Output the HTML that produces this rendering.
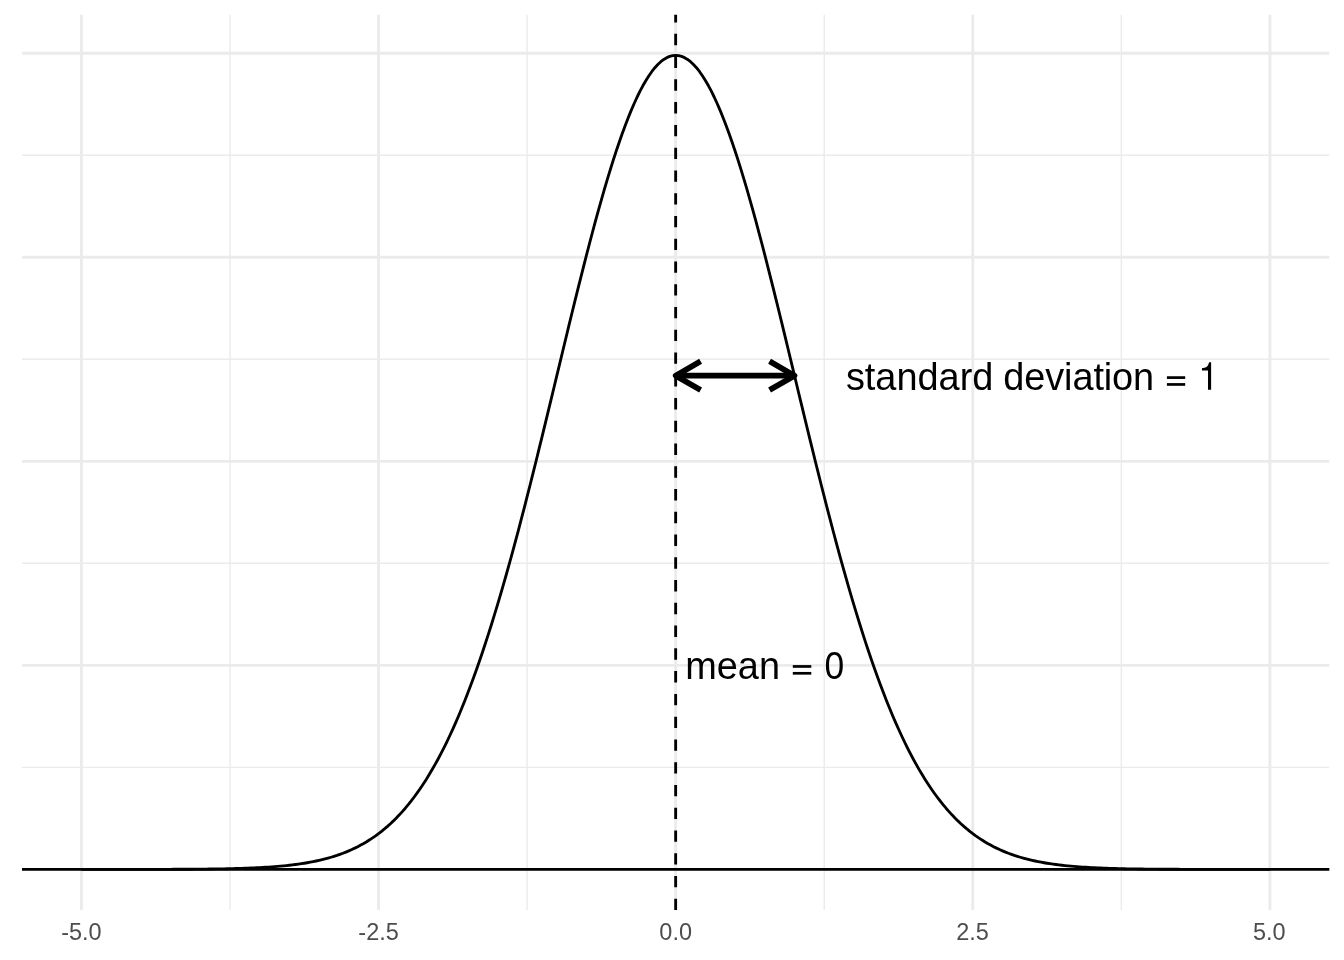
<!DOCTYPE html>
<html><head><meta charset="utf-8"><title>Normal distribution</title>
<style>
html,body{margin:0;padding:0;background:#fff;}
body{width:1344px;height:960px;overflow:hidden;font-family:"Liberation Sans",sans-serif;}
svg{display:block;will-change:transform;}
svg text{font-family:"Liberation Sans",sans-serif;}
</style></head><body>
<svg width="1344" height="960" viewBox="0 0 1344 960">
<rect x="0" y="0" width="1344" height="960" fill="#fff"/>
<line x1="22.00" x2="1329.33" y1="869.40" y2="869.40" stroke="#EBEBEB" stroke-width="2.85"/>
<line x1="22.00" x2="1329.33" y1="767.38" y2="767.38" stroke="#EBEBEB" stroke-width="1.42"/>
<line x1="22.00" x2="1329.33" y1="665.35" y2="665.35" stroke="#EBEBEB" stroke-width="2.85"/>
<line x1="22.00" x2="1329.33" y1="563.33" y2="563.33" stroke="#EBEBEB" stroke-width="1.42"/>
<line x1="22.00" x2="1329.33" y1="461.31" y2="461.31" stroke="#EBEBEB" stroke-width="2.85"/>
<line x1="22.00" x2="1329.33" y1="359.28" y2="359.28" stroke="#EBEBEB" stroke-width="1.42"/>
<line x1="22.00" x2="1329.33" y1="257.26" y2="257.26" stroke="#EBEBEB" stroke-width="2.85"/>
<line x1="22.00" x2="1329.33" y1="155.24" y2="155.24" stroke="#EBEBEB" stroke-width="1.42"/>
<line x1="22.00" x2="1329.33" y1="53.21" y2="53.21" stroke="#EBEBEB" stroke-width="2.85"/>
<line x1="81.42" x2="81.42" y1="14.67" y2="910.10" stroke="#EBEBEB" stroke-width="2.85"/>
<line x1="229.98" x2="229.98" y1="14.67" y2="910.10" stroke="#EBEBEB" stroke-width="1.42"/>
<line x1="378.54" x2="378.54" y1="14.67" y2="910.10" stroke="#EBEBEB" stroke-width="2.85"/>
<line x1="527.10" x2="527.10" y1="14.67" y2="910.10" stroke="#EBEBEB" stroke-width="1.42"/>
<line x1="675.66" x2="675.66" y1="14.67" y2="910.10" stroke="#EBEBEB" stroke-width="2.85"/>
<line x1="824.23" x2="824.23" y1="14.67" y2="910.10" stroke="#EBEBEB" stroke-width="1.42"/>
<line x1="972.79" x2="972.79" y1="14.67" y2="910.10" stroke="#EBEBEB" stroke-width="2.85"/>
<line x1="1121.35" x2="1121.35" y1="14.67" y2="910.10" stroke="#EBEBEB" stroke-width="1.42"/>
<line x1="1269.91" x2="1269.91" y1="14.67" y2="910.10" stroke="#EBEBEB" stroke-width="2.85"/>
<polyline points="81.42,869.40 84.40,869.40 87.37,869.39 90.34,869.39 93.31,869.39 96.28,869.39 99.25,869.39 102.22,869.39 105.19,869.39 108.16,869.39 111.14,869.39 114.11,869.39 117.08,869.39 120.05,869.38 123.02,869.38 125.99,869.38 128.96,869.38 131.93,869.38 134.91,869.37 137.88,869.37 140.85,869.37 143.82,869.36 146.79,869.36 149.76,869.35 152.73,869.35 155.70,869.34 158.68,869.34 161.65,869.33 164.62,869.32 167.59,869.31 170.56,869.30 173.53,869.29 176.50,869.28 179.47,869.27 182.45,869.25 185.42,869.23 188.39,869.22 191.36,869.20 194.33,869.18 197.30,869.15 200.27,869.13 203.24,869.10 206.21,869.07 209.19,869.03 212.16,868.99 215.13,868.95 218.10,868.91 221.07,868.86 224.04,868.80 227.01,868.74 229.98,868.68 232.96,868.61 235.93,868.53 238.90,868.45 241.87,868.36 244.84,868.26 247.81,868.15 250.78,868.03 253.75,867.91 256.73,867.77 259.70,867.62 262.67,867.46 265.64,867.28 268.61,867.09 271.58,866.88 274.55,866.66 277.52,866.42 280.49,866.16 283.47,865.88 286.44,865.58 289.41,865.26 292.38,864.91 295.35,864.53 298.32,864.13 301.29,863.70 304.26,863.23 307.24,862.73 310.21,862.20 313.18,861.62 316.15,861.01 319.12,860.36 322.09,859.65 325.06,858.91 328.03,858.11 331.01,857.25 333.98,856.34 336.95,855.38 339.92,854.34 342.89,853.25 345.86,852.08 348.83,850.84 351.80,849.53 354.77,848.14 357.75,846.66 360.72,845.09 363.69,843.44 366.66,841.68 369.63,839.83 372.60,837.87 375.57,835.81 378.54,833.63 381.52,831.34 384.49,828.92 387.46,826.38 390.43,823.70 393.40,820.89 396.37,817.94 399.34,814.85 402.31,811.60 405.29,808.20 408.26,804.64 411.23,800.91 414.20,797.01 417.17,792.95 420.14,788.70 423.11,784.27 426.08,779.65 429.06,774.84 432.03,769.84 435.00,764.64 437.97,759.23 440.94,753.62 443.91,747.80 446.88,741.76 449.85,735.51 452.82,729.04 455.80,722.35 458.77,715.44 461.74,708.30 464.71,700.94 467.68,693.35 470.65,685.54 473.62,677.49 476.59,669.23 479.57,660.73 482.54,652.01 485.51,643.07 488.48,633.91 491.45,624.52 494.42,614.93 497.39,605.12 500.36,595.11 503.34,584.90 506.31,574.49 509.28,563.89 512.25,553.10 515.22,542.14 518.19,531.01 521.16,519.73 524.13,508.29 527.10,496.71 530.08,485.00 533.05,473.17 536.02,461.23 538.99,449.19 541.96,437.07 544.93,424.88 547.90,412.63 550.87,400.33 553.85,388.01 556.82,375.67 559.79,363.33 562.76,351.00 565.73,338.71 568.70,326.46 571.67,314.28 574.64,302.18 577.62,290.18 580.59,278.29 583.56,266.54 586.53,254.94 589.50,243.50 592.47,232.26 595.44,221.21 598.41,210.39 601.38,199.80 604.36,189.47 607.33,179.41 610.30,169.63 613.27,160.17 616.24,151.02 619.21,142.21 622.18,133.76 625.15,125.67 628.13,117.96 631.10,110.64 634.07,103.73 637.04,97.25 640.01,91.19 642.98,85.58 645.95,80.42 648.92,75.72 651.90,71.49 654.87,67.74 657.84,64.48 660.81,61.71 663.78,59.43 666.75,57.66 669.72,56.39 672.69,55.63 675.66,55.37 678.64,55.63 681.61,56.39 684.58,57.66 687.55,59.43 690.52,61.71 693.49,64.48 696.46,67.74 699.43,71.49 702.41,75.72 705.38,80.42 708.35,85.58 711.32,91.19 714.29,97.25 717.26,103.73 720.23,110.64 723.20,117.96 726.18,125.67 729.15,133.76 732.12,142.21 735.09,151.02 738.06,160.17 741.03,169.63 744.00,179.41 746.97,189.47 749.95,199.80 752.92,210.39 755.89,221.21 758.86,232.26 761.83,243.50 764.80,254.94 767.77,266.54 770.74,278.29 773.71,290.18 776.69,302.18 779.66,314.28 782.63,326.46 785.60,338.71 788.57,351.00 791.54,363.33 794.51,375.67 797.48,388.01 800.46,400.33 803.43,412.63 806.40,424.88 809.37,437.07 812.34,449.19 815.31,461.23 818.28,473.17 821.25,485.00 824.23,496.71 827.20,508.29 830.17,519.73 833.14,531.01 836.11,542.14 839.08,553.10 842.05,563.89 845.02,574.49 847.99,584.90 850.97,595.11 853.94,605.12 856.91,614.93 859.88,624.52 862.85,633.91 865.82,643.07 868.79,652.01 871.76,660.73 874.74,669.23 877.71,677.49 880.68,685.54 883.65,693.35 886.62,700.94 889.59,708.30 892.56,715.44 895.53,722.35 898.51,729.04 901.48,735.51 904.45,741.76 907.42,747.80 910.39,753.62 913.36,759.23 916.33,764.64 919.30,769.84 922.27,774.84 925.25,779.65 928.22,784.27 931.19,788.70 934.16,792.95 937.13,797.01 940.10,800.91 943.07,804.64 946.04,808.20 949.02,811.60 951.99,814.85 954.96,817.94 957.93,820.89 960.90,823.70 963.87,826.38 966.84,828.92 969.81,831.34 972.79,833.63 975.76,835.81 978.73,837.87 981.70,839.83 984.67,841.68 987.64,843.44 990.61,845.09 993.58,846.66 996.56,848.14 999.53,849.53 1002.50,850.84 1005.47,852.08 1008.44,853.25 1011.41,854.34 1014.38,855.38 1017.35,856.34 1020.32,857.25 1023.30,858.11 1026.27,858.91 1029.24,859.65 1032.21,860.36 1035.18,861.01 1038.15,861.62 1041.12,862.20 1044.09,862.73 1047.07,863.23 1050.04,863.70 1053.01,864.13 1055.98,864.53 1058.95,864.91 1061.92,865.26 1064.89,865.58 1067.86,865.88 1070.84,866.16 1073.81,866.42 1076.78,866.66 1079.75,866.88 1082.72,867.09 1085.69,867.28 1088.66,867.46 1091.63,867.62 1094.60,867.77 1097.58,867.91 1100.55,868.03 1103.52,868.15 1106.49,868.26 1109.46,868.36 1112.43,868.45 1115.40,868.53 1118.37,868.61 1121.35,868.68 1124.32,868.74 1127.29,868.80 1130.26,868.86 1133.23,868.91 1136.20,868.95 1139.17,868.99 1142.14,869.03 1145.12,869.07 1148.09,869.10 1151.06,869.13 1154.03,869.15 1157.00,869.18 1159.97,869.20 1162.94,869.22 1165.91,869.23 1168.88,869.25 1171.86,869.27 1174.83,869.28 1177.80,869.29 1180.77,869.30 1183.74,869.31 1186.71,869.32 1189.68,869.33 1192.65,869.34 1195.63,869.34 1198.60,869.35 1201.57,869.35 1204.54,869.36 1207.51,869.36 1210.48,869.37 1213.45,869.37 1216.42,869.37 1219.40,869.38 1222.37,869.38 1225.34,869.38 1228.31,869.38 1231.28,869.38 1234.25,869.39 1237.22,869.39 1240.19,869.39 1243.17,869.39 1246.14,869.39 1249.11,869.39 1252.08,869.39 1255.05,869.39 1258.02,869.39 1260.99,869.39 1263.96,869.39 1266.93,869.40 1269.91,869.40" fill="none" stroke="#000" stroke-width="2.85" stroke-linejoin="round"/>
<line x1="22.00" x2="1329.33" y1="869.40" y2="869.40" stroke="#000" stroke-width="2.85"/>
<line x1="675.66" x2="675.66" y1="910.10" y2="14.67" stroke="#000" stroke-width="2.85" stroke-dasharray="11.38 11.38"/>
<line x1="675.66" x2="794.51" y1="375.67" y2="375.67" stroke="#000" stroke-width="5.69"/>
<polyline points="700.61,361.27 675.66,375.67 700.61,390.07" fill="none" stroke="#000" stroke-width="5.69" stroke-linejoin="round" stroke-linecap="butt"/>
<polyline points="769.57,361.27 794.51,375.67 769.57,390.07" fill="none" stroke="#000" stroke-width="5.69" stroke-linejoin="round" stroke-linecap="butt"/>
<text x="845.9" y="389.85" font-size="37.9" fill="#000">standard</text>
<text x="1003.3" y="389.85" font-size="37.9" fill="#000" letter-spacing="-0.1">deviation</text>
<rect x="1166.9" y="376.25" width="18.30" height="2.7" fill="#000"/><rect x="1166.9" y="383.10" width="18.30" height="2.7" fill="#000"/>
<path d="M1211.11 389.82 V362.37 H1209.1 C1208.6 364.6 1207.6 366.4 1206.43 367.05 C1205.2 367.7 1203.5 368.0 1201.96 368.17 V370.62 H1207.99 V389.82 Z" fill="#000"/>
<text x="685.2" y="678.7" font-size="37.9" fill="#000">mean</text>
<rect x="792.8" y="665.10" width="18.50" height="2.7" fill="#000"/><rect x="792.8" y="671.95" width="18.50" height="2.7" fill="#000"/>
<text x="823.85" y="678.7" font-size="37.9" fill="#000" transform="translate(834.35 0) scale(0.935 1) translate(-834.35 0)">0</text>
<text x="81.42" y="939.8" font-size="23.47" text-anchor="middle" fill="#4D4D4D">-5.0</text>
<text x="378.54" y="939.8" font-size="23.47" text-anchor="middle" fill="#4D4D4D">-2.5</text>
<text x="675.66" y="939.8" font-size="23.47" text-anchor="middle" fill="#4D4D4D">0.0</text>
<text x="972.49" y="939.8" font-size="23.47" text-anchor="middle" fill="#4D4D4D">2.5</text>
<text x="1269.31" y="939.8" font-size="23.47" text-anchor="middle" fill="#4D4D4D">5.0</text>
</svg>
</body></html>
